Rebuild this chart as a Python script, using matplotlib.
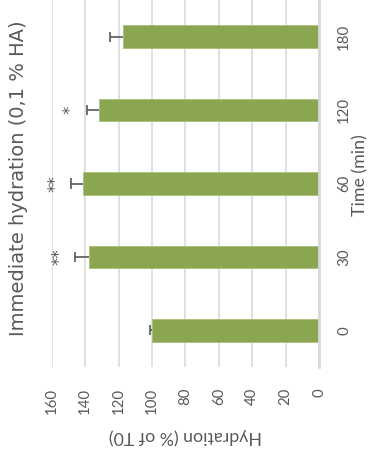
import matplotlib
matplotlib.use("Agg")
import matplotlib.pyplot as plt

# Hydration over time after a single application (0,1 % HA)
times = ["0", "30", "60", "120", "180"]
hydration = [100.0, 137.7, 141.1, 131.6, 117.2]
errors = [1.0, 8.4, 7.4, 7.5, 8.0]
significance = ["", "**", "**", "*", ""]
value_ticks = [0, 20, 40, 60, 80, 100, 120, 140, 160]

GREY = "#595959"
GRID = "#D9D9D9"
BAR = "#8BA650"

plt.rcParams["font.family"] = ["Lato", "DejaVu Sans"]

W, H = 380, 454
fig = plt.figure(figsize=(W / 100, H / 100), dpi=100)
# Chart is laid out turned on its side: values run right-to-left, categories bottom-to-top
ax = fig.add_axes([51.7 / W, (H - 367) / H, (319 - 51.7) / W, 367 / H])

pos = list(range(len(times)))
ax.barh(pos, hydration, height=0.31, color=BAR, edgecolor="#A9BE7A",
        linewidth=0.6, zorder=3)

# one-sided (positive) error bars
cap = 0.07
for y, h, e in zip(pos, hydration, errors):
    ax.hlines(y, h, h + e, color=GREY, linewidth=1.2, zorder=4)
    ax.vlines(h + e, y - cap, y + cap, color=GREY, linewidth=1.2, zorder=4)

# significance marks placed just beyond the error bars
for y, h, e, s in zip(pos, hydration, errors, significance):
    if s:
        ax.text(h + e + 9.5, y, s, rotation=90, ha="center", va="center",
                fontsize=12, color=GREY, family=["DejaVu Sans"])

ax.set_xlim(160, 0)
ax.set_ylim(-0.5, len(times) - 0.5)

ax.set_xticks(value_ticks)
ax.set_xticklabels([str(v) for v in value_ticks], rotation=90, fontsize=10.8,
                   color=GREY)
ax.tick_params(axis="x", length=0, pad=15)
for lab in ax.get_xticklabels():
    lab.set_va("top")
    lab.set_ha("center")

ax.set_yticks(pos)
ax.set_yticklabels(times, rotation=90, fontsize=10.8, color=GREY)
ax.yaxis.tick_right()
ax.tick_params(axis="y", length=0, pad=13)
for lab in ax.get_yticklabels():
    lab.set_va("center")
    lab.set_ha("left")

ax.grid(axis="x", color=GRID, linewidth=1.1, zorder=0)
ax.set_axisbelow(True)
for side in ["top", "left", "bottom"]:
    ax.spines[side].set_visible(False)
ax.spines["right"].set_color(GRID)
ax.spines["right"].set_linewidth(2.0)
ax.spines["right"].set_zorder(5)

fig.text(19 / W, (H - 178) / H, "Immediate hydration (0,1 % HA)",
         rotation=90, ha="center", va="center", fontsize=14, color=GREY,
         family=["DejaVu Sans"])
fig.text(360 / W, (H - 175) / H, "Time (min)", rotation=90,
         ha="center", va="center", fontsize=12.8, color=GREY)
fig.text(185 / W, (H - 436) / H, "Hydration (% of T0)", rotation=180,
         ha="center", va="center", fontsize=12.8, color=GREY)

fig.savefig("out.png", dpi=100)
